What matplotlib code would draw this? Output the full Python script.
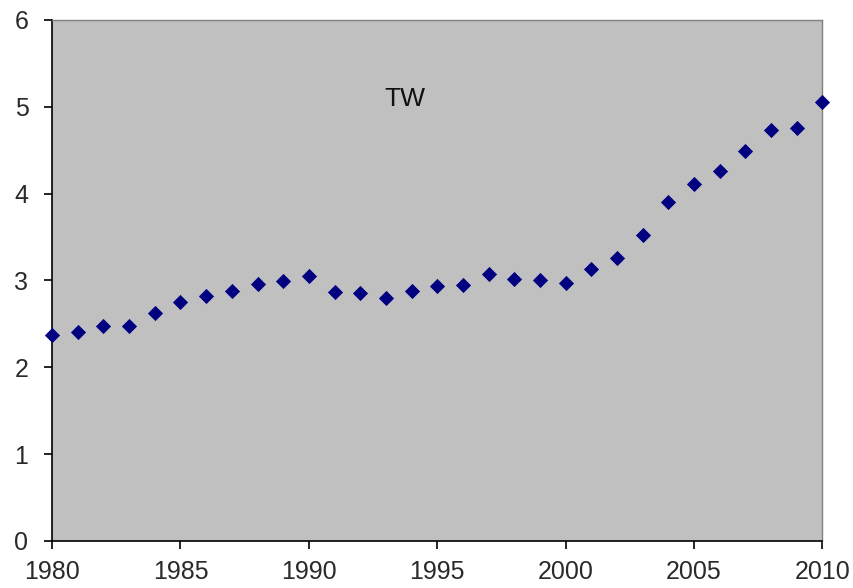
import matplotlib
matplotlib.use("Agg")
import matplotlib.pyplot as plt

years = list(range(1980, 2011))
values = [2.37, 2.41, 2.47, 2.48, 2.63, 2.75, 2.82, 2.88, 2.96, 2.99,
          3.05, 2.87, 2.86, 2.80, 2.88, 2.94, 2.95, 3.08, 3.02, 3.01,
          2.97, 3.13, 3.26, 3.52, 3.90, 4.11, 4.26, 4.49, 4.73, 4.76,
          5.05]
x_ticks = [1980, 1985, 1990, 1995, 2000, 2005, 2010]
y_ticks = [0, 1, 2, 3, 4, 5, 6]

plt.rcParams['font.family'] = ['Liberation Sans', 'DejaVu Sans']

fig = plt.figure(figsize=(8.54, 5.88), dpi=100)
ax = fig.add_axes([0.061, 0.080, 0.902, 0.886])
ax.set_facecolor('#c0c0c0')

ax.scatter(years, values, marker='D', s=60, color='#000080', zorder=3,
           clip_on=False, linewidths=0)

ax.set_xlim(1980, 2010)
ax.set_ylim(0, 6)
ax.set_xticks(x_ticks)
ax.set_yticks(y_ticks)
ax.tick_params(direction='out', length=6, width=1.2, labelsize=18,
               colors='black', labelcolor='#2a2a2a')
ax.tick_params(axis='x', pad=8)
ax.tick_params(axis='y', pad=11)

for side in ('left', 'bottom'):
    ax.spines[side].set_color('black')
    ax.spines[side].set_linewidth(1.2)
for side in ('top', 'right'):
    ax.spines[side].set_color('#808080')
    ax.spines[side].set_linewidth(1.0)

ax.text(0.458, 0.848, 'TW', transform=ax.transAxes, fontsize=19,
        ha='center', va='center', color='#111111')

fig.savefig('out.png', dpi=100)
